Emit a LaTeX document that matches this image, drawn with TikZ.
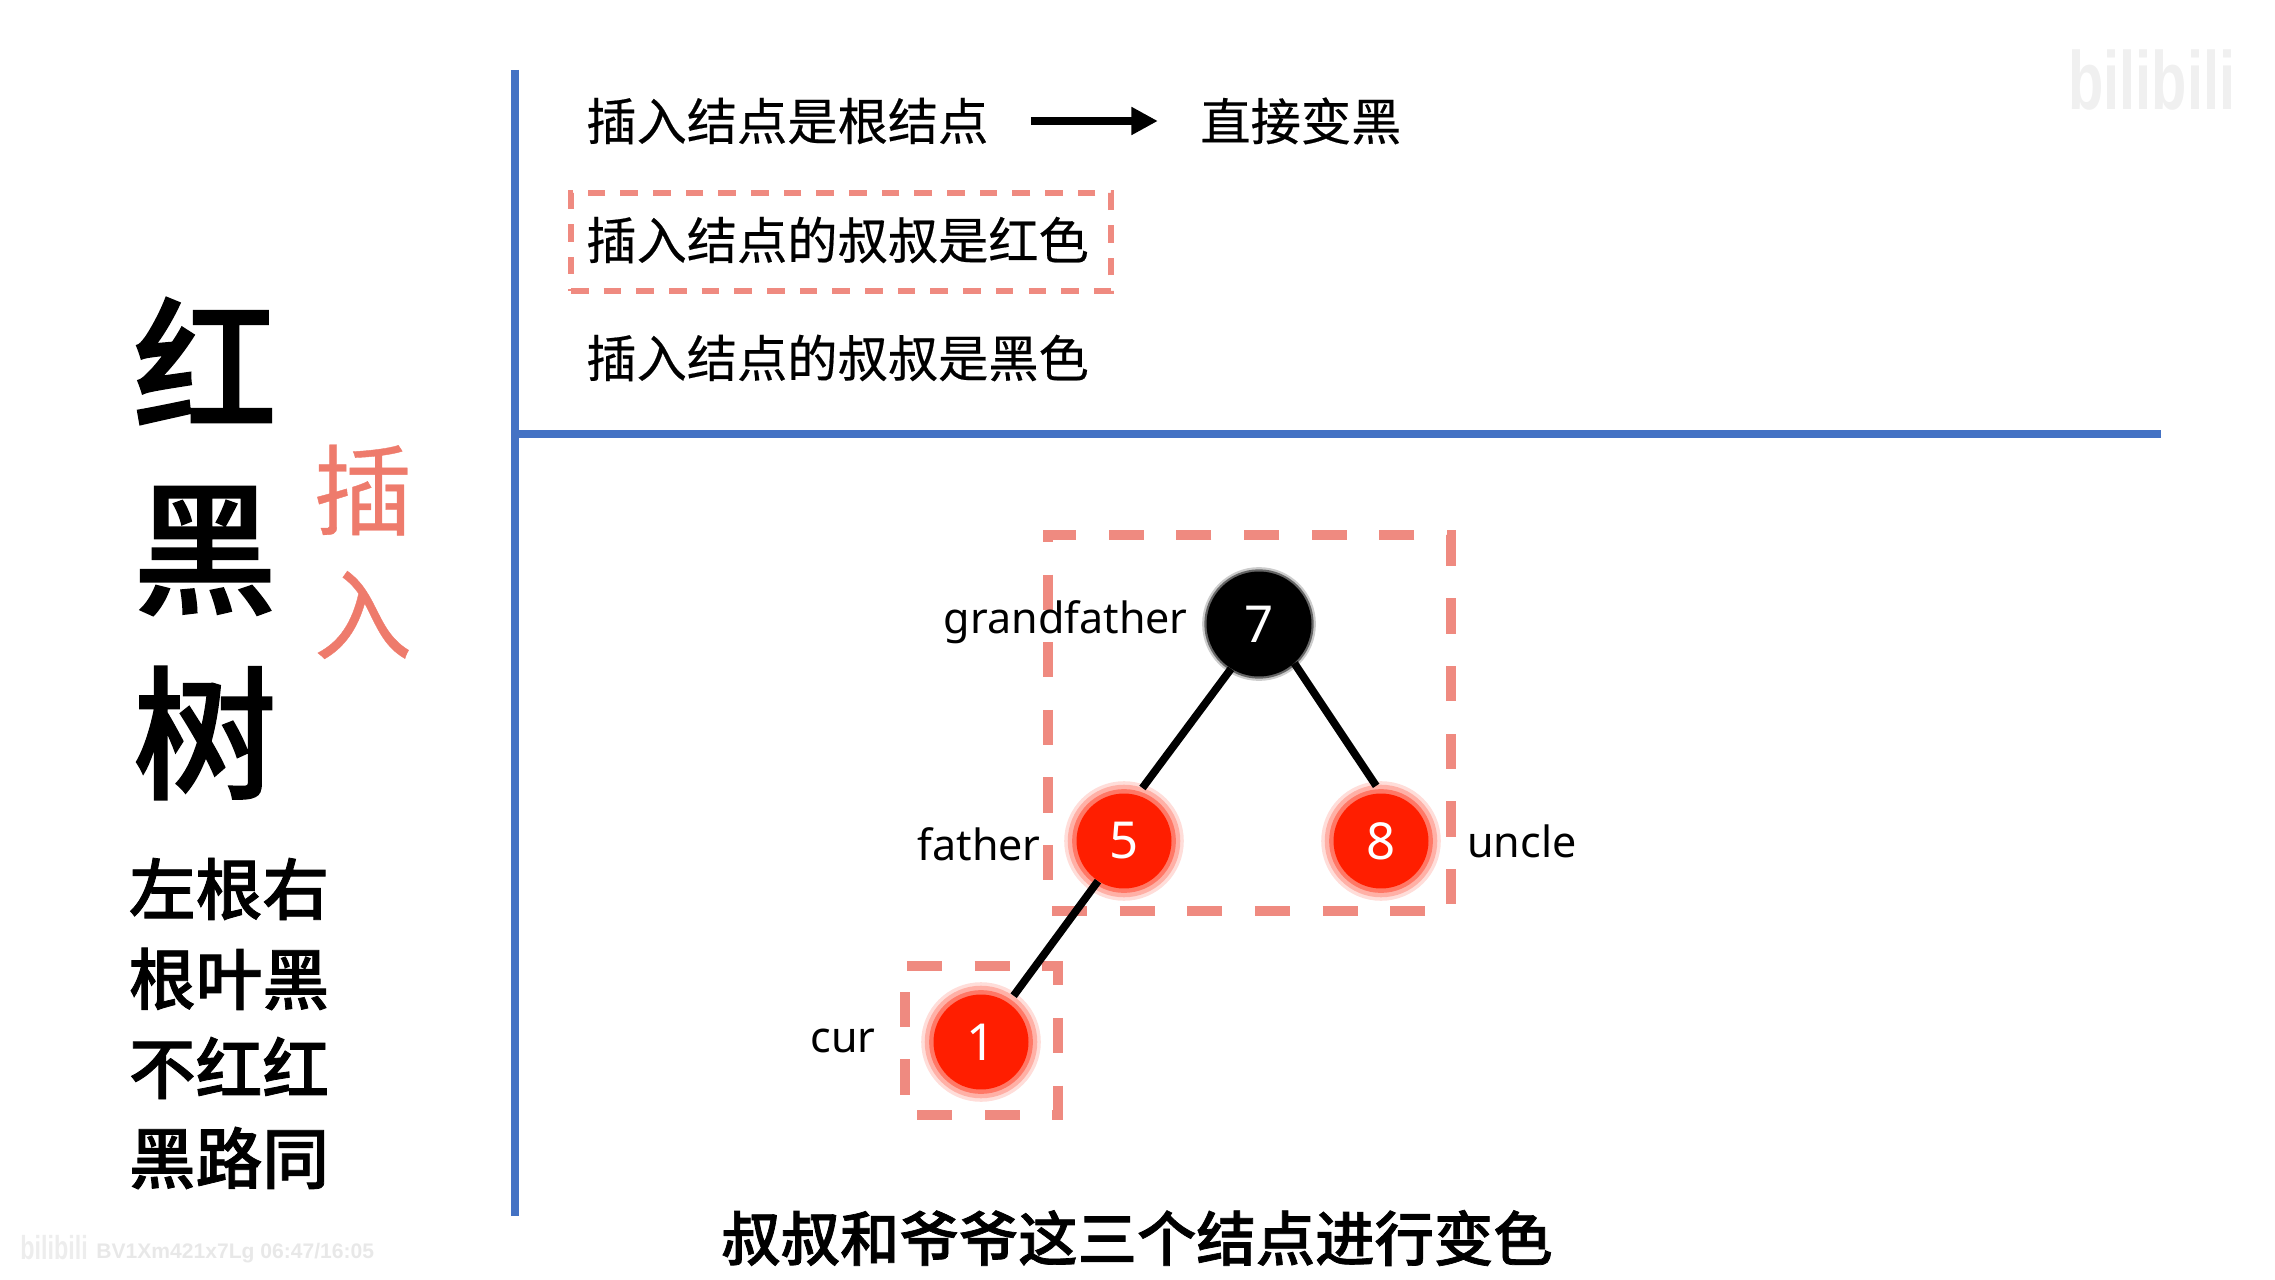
\documentclass[tikz,border=0pt]{standalone}
\usepackage{fontspec}
\setmainfont{Noto Sans CJK SC}
\newfontfamily\heavyfont[FakeBold=1.2]{Noto Sans CJK SC Medium}
\newfontfamily\casefont[FakeBold=0.4]{Noto Sans CJK SC}
\newfontfamily\labelfont{Noto Sans}
\newfontfamily\markfont{Liberation Sans}
\newfontfamily\logofont[FakeStretch=0.7]{Liberation Sans Bold}
\usetikzlibrary{arrows.meta}
\definecolor{barblue}{HTML}{4472C4}
\definecolor{dashred}{HTML}{EF8A80}
\definecolor{insertred}{HTML}{EE7B6C}
\definecolor{nodered}{HTML}{FF1E00}
\tikzset{
    bar/.style={barblue, line width=5pt},
    dashbox/.style={dashred, line width=5.4pt, dash pattern=on 20pt off 18.5pt},
    casebox/.style={dashred, line width=3pt, dash pattern=on 10pt off 8.6pt},
    title/.style={inner sep=0pt, font=\heavyfont\fontsize{82}{82}\selectfont},
    sidetitle/.style={inner sep=0pt, text=insertred, font=\casefont\fontsize{56}{56}\selectfont},
    rule/.style={inner sep=0pt, font=\heavyfont\fontsize{38}{38}\selectfont},
    case/.style={inner sep=0pt, font=\casefont\fontsize{28.6}{28.6}\selectfont},
    role/.style={inner sep=0pt, font=\labelfont\fontsize{24.5}{24.5}\selectfont},
    treeedge/.style={line width=4.4pt, shorten >=5pt},
    blacknode/.style={circle, fill=black, text=white, inner sep=0pt, minimum size=2.1cm,
        font=\labelfont\fontsize{29}{29}\selectfont,
        preaction={draw=black!20, line width=5pt},
        preaction={draw=black!60, line width=2.5pt}},
    rednode/.style={circle, fill=nodered, text=white, inner sep=0pt, minimum size=1.9cm,
        font=\labelfont\fontsize{29}{29}\selectfont,
        preaction={draw=nodered!15, line width=14pt},
        preaction={draw=nodered!35, line width=10pt},
        preaction={draw=nodered!60, line width=5pt}},
}
\begin{document}
\begin{tikzpicture}[x=0.02cm, y=-0.02cm]
    \useasboundingbox (0,0) rectangle (2275,1280);

    % Left column
    \node[title] (hong) at (205,361) {红};
    \node[title] (hei) at (205,551) {黑};
    \node[title] (shu) at (205,733) {树};
    \node[sidetitle] (cha) at (363,490) {插};
    \node[sidetitle] (ru) at (363,615) {入};
    \node[rule] (rule1) at (229,889) {左根右};
    \node[rule] (rule2) at (229,979) {根叶黑};
    \node[rule] (rule3) at (229,1068) {不红红};
    \node[rule] (rule4) at (229,1158) {黑路同};

    % Divider
    \draw[bar] (515,70) -- (515,1216);
    \draw[bar] (515,434) -- (2161,434);

    % Cases
    \node[case, anchor=west] (rootcase) at (586,121) {插入结点是根结点};
    \node[case, anchor=west] (rootact) at (1200,121) {直接变黑};
    \node[case, anchor=west] (redcase) at (586,240) {插入结点的叔叔是红色};
    \node[case, anchor=west] (blackcase) at (586,358) {插入结点的叔叔是黑色};
    \draw[line width=4.2pt, -{Triangle[length=15pt, width=15pt]}, shorten <=24pt, shorten >=24pt]
        (rootcase.east) -- (rootact.west);
    \draw[casebox] (571,291) -- (1111,291) -- (1111,193) -- (571,193) -- cycle;

    % Dashed groups
    \draw[dashbox] (1052,911) -- (1451,911) -- (1451,535) -- (1048,535) -- (1048,911);
    \draw[dashbox] (907,966) -- (1058,966) -- (1058,1115) -- (905,1115) -- (905,966);

    % Tree
    \node[blacknode] (n7) at (1259,624) {7};
    \node[rednode] (n5) at (1124,841) {5};
    \node[rednode] (n8) at (1381,841) {8};
    \node[rednode] (n1) at (981,1042) {1};
    \draw[treeedge] (n7.238) -- (n5.74);
    \draw[treeedge] (n7.-48) -- (n8.north);
    \draw[treeedge] (n5.237) -- (n1.55);

    % Roles
    \node[role, anchor=east] (grandfather) at (1188,622) {grandfather};
    \node[role, anchor=east] (father) at (1041,844) {father};
    \node[role, anchor=west] (uncle) at (1467,841) {uncle};
    \node[role, anchor=east] (cur) at (876,1041) {cur};

    % Caption
    \node[inner sep=0pt, font=\heavyfont\fontsize{33.8}{33.8}\selectfont] (caption) at (1137,1238)
        {叔叔和爷爷这三个结点进行变色};

    % Video marks
    \node[inner sep=0pt, anchor=west, text=black!9, font=\markfont\fontsize{12}{12}\selectfont\bfseries] (stamp) at (96,1253)
        {BV1Xm421x7Lg 06:47/16:05};
    \node[inner sep=0pt, anchor=west, text=black!7, font=\logofont\fontsize{19}{19}\selectfont] (logoleft) at (20,1248) {bilibili};
    \node[inner sep=0pt, anchor=west, text=black!6, font=\logofont\fontsize{47}{47}\selectfont] (logoright) at (2068,80) {bilibili};
\end{tikzpicture}
\end{document}
